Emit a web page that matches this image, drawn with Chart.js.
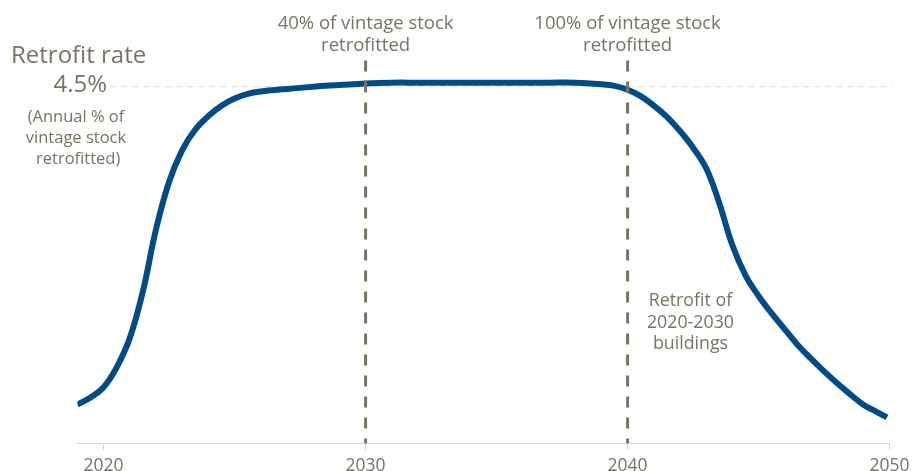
<!DOCTYPE html>
<html>
<head>
<meta charset="utf-8">
<script src="https://cdn.jsdelivr.net/npm/chart.js@4.4.3/dist/chart.umd.min.js"></script>
<style>
  html, body { margin: 0; padding: 0; background: #fff; }
  #frame { width: 916px; height: 471px; overflow: hidden; }
  #wrap { position: relative; width: 916px; height: 483px; }
</style>
</head>
<body>
<div id="frame"><div id="wrap"><canvas id="retrofit-chart"></canvas></div></div>
<script>
// Retrofit rate path, annual % of vintage stock retrofitted
const years = [2019, 2019.5, 2020, 2020.5, 2021, 2021.5, 2022, 2022.5, 2023, 2023.5, 2024, 2024.5, 2025, 2025.5, 2026,
  2027, 2028, 2029, 2030, 2031, 2032, 2033, 2034, 2035, 2036, 2037, 2038, 2039, 2039.5,
  2040, 2040.5, 2041, 2041.5, 2042, 2042.5, 2043, 2043.5, 2044, 2044.5, 2045, 2045.5,
  2046, 2046.5, 2047, 2047.5, 2048, 2048.5, 2049, 2049.5, 2049.9];
const rates = [0.49, 0.58, 0.71, 0.96, 1.33, 1.92, 2.70, 3.30, 3.70, 3.96, 4.13, 4.26, 4.35, 4.41, 4.44,
  4.47, 4.50, 4.52, 4.54, 4.55, 4.55, 4.55, 4.55, 4.55, 4.55, 4.55, 4.55, 4.53, 4.51,
  4.46, 4.38, 4.26, 4.12, 3.94, 3.73, 3.47, 3.03, 2.50, 2.12, 1.86, 1.64,
  1.44, 1.24, 1.07, 0.91, 0.76, 0.62, 0.49, 0.40, 0.33];

const xTicks = [2020, 2030, 2040, 2050];
const targetRate = 4.5;
const markerYears = [2030, 2040];
const markerLabels = [['40% of vintage stock', 'retrofitted'], ['100% of vintage stock', 'retrofitted']];
const phaseLabel = ['Retrofit of', '2020-2030', 'buildings'];

const BLUE = '#034b87';
const TEXT = '#7a7362';
const FONT = "'Open Sans', 'Noto Sans', sans-serif";

function vline(x) {
  return {
    data: [{ x, y: 0 }, { x, y: 4.83 }],
    borderColor: '#7a7362',
    borderWidth: 3,
    borderDash: [11, 10],
    borderDashOffset: 6,
    pointRadius: 0,
    fill: false
  };
}

const annotations = {
  id: 'annotations',
  afterDraw(chart) {
    const { ctx, scales: { x, y } } = chart;
    ctx.save();
    ctx.fillStyle = TEXT;
    ctx.textBaseline = 'middle';

    // y-axis title block on the left
    ctx.font = `24px ${FONT}`;
    ctx.textAlign = 'left';
    ctx.fillText('Retrofit rate', 11, 56);
    ctx.textAlign = 'right';
    ctx.fillText('4.5%', 107, y.getPixelForValue(targetRate) - 1);
    ctx.font = `16.5px ${FONT}`;
    ctx.textAlign = 'center';
    ['(Annual % of', 'vintage stock', ' retrofitted)'].forEach((t, i) => {
      ctx.fillText(t, 76, 117 + i * 21);
    });

    // labels above the dashed markers
    ctx.font = `18.5px ${FONT}`;
    markerYears.forEach((yr, k) => {
      const px = x.getPixelForValue(yr);
      markerLabels[k].forEach((t, i) => ctx.fillText(t, px, 24 + i * 22));
    });

    ctx.font = `17.8px ${FONT}`;
    const px = x.getPixelForValue(2042.4);
    phaseLabel.forEach((t, i) => ctx.fillText(t, px, 301 + i * 21.5));
    ctx.restore();
  }
};

new Chart(document.getElementById('retrofit-chart'), {
  type: 'line',
  data: {
    datasets: [
      vline(markerYears[0]),
      vline(markerYears[1]),
      {
        data: years.map((yr, i) => ({ x: yr, y: rates[i] })),
        borderColor: BLUE,
        borderWidth: 6,
        tension: 0.4,
        borderCapStyle: 'butt',
        pointRadius: 0,
        fill: false
      },
      {
        data: [{ x: 2020.25, y: targetRate }, { x: 2050.1, y: targetRate }],
        borderColor: '#e0dbce',
        borderWidth: 1,
        borderDash: [6, 5],
        pointRadius: 0,
        fill: false,
        clip: false
      }
    ]
  },
  options: {
    responsive: true,
    maintainAspectRatio: false,
    animation: false,
    layout: { padding: { left: 77.4, right: 26.4, top: 47, bottom: 0 } },
    plugins: { legend: { display: false }, tooltip: { enabled: false } },
    scales: {
      x: {
        type: 'linear',
        min: 2019,
        max: 2050,
        afterBuildTicks: (axis) => { axis.ticks = xTicks.map(v => ({ value: v })); },
        // let the end labels hang past the plot edges
        afterFit: (axis) => { axis.paddingLeft = 0; axis.paddingRight = 0; },
        grid: { drawOnChartArea: false, drawTicks: true, tickLength: 6, color: '#d8d3ca' },
        border: { color: '#d8d3ca', width: 1 },
        ticks: {
          color: TEXT,
          font: { family: FONT, size: 17.5, lineHeight: 1 },
          padding: 8,
          maxRotation: 0,
          callback: (v) => String(v)
        }
      },
      y: {
        display: false,
        min: 0,
        max: 5
      }
    }
  },
  plugins: [annotations]
});
</script>
</body>
</html>
